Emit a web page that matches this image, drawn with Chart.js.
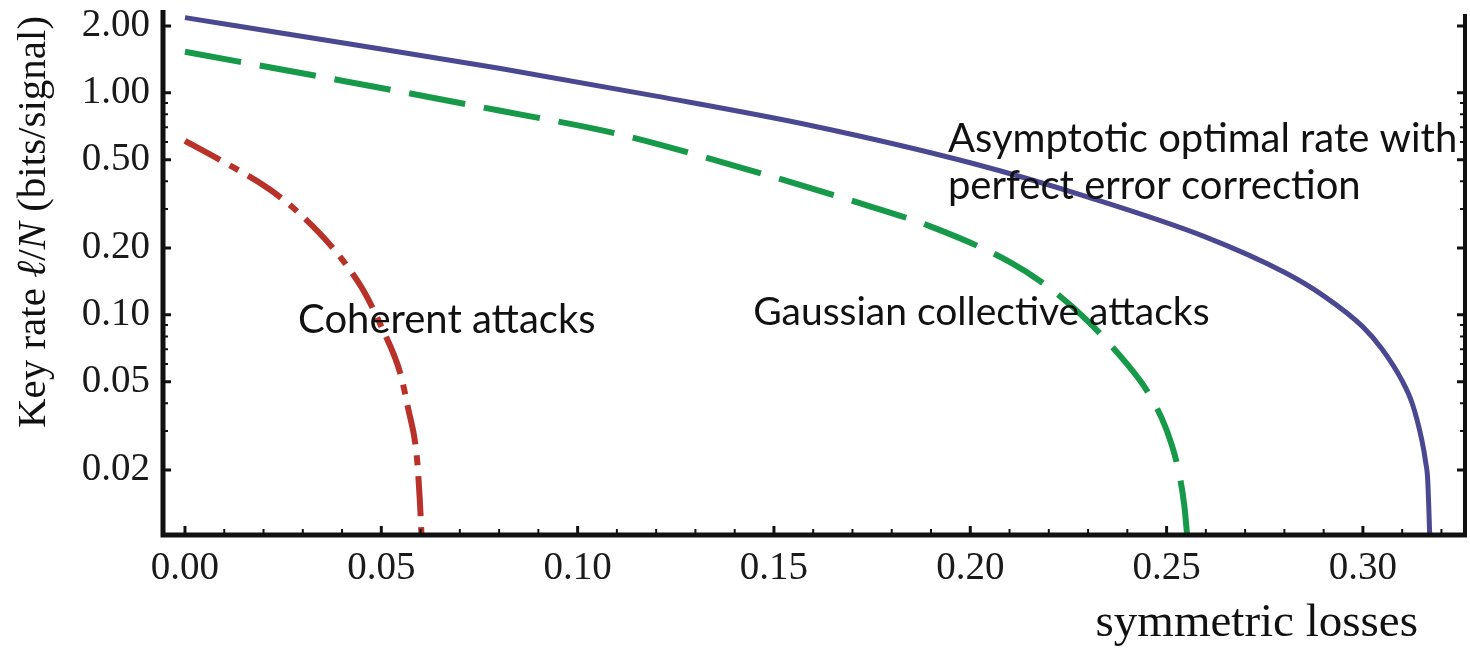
<!DOCTYPE html>
<html>
<head>
<meta charset="utf-8">
<script src="https://cdn.jsdelivr.net/npm/chart.js@4.4.1/dist/chart.umd.min.js"></script>
<style>
  body { margin: 0; background: #fff; }
  #wrap { width: 1470px; height: 649px; }
</style>
</head>
<body>
<div id="wrap"><canvas id="grafico" width="1470" height="649"></canvas></div>
<script>
// ----------------------------------------------------
//  DADOS
// ----------------------------------------------------
const lossOptimal = [0, 0.04, 0.08, 0.12, 0.16, 0.20, 0.23, 0.26, 0.28, 0.29, 0.30, 0.305, 0.31, 0.3125, 0.315, 0.316, 0.3165, 0.3172];
const rateOptimal = [2.18, 1.68, 1.29, 0.966, 0.709, 0.484, 0.339, 0.224, 0.1555, 0.1218, 0.0883, 0.0696, 0.0504, 0.0402, 0.0273, 0.0216, 0.0181, 0.008];

const lossGaussian = [0, 0.04, 0.08, 0.11, 0.14, 0.17, 0.19, 0.21, 0.22, 0.23, 0.24, 0.245, 0.25, 0.253, 0.2545, 0.2555];
const rateGaussian = [1.53, 1.134, 0.832, 0.654, 0.469, 0.326, 0.2496, 0.1733, 0.133, 0.0935, 0.0598, 0.0455, 0.0303, 0.020, 0.0139, 0.009];

const lossCoherent = [0, 0.0089, 0.0217, 0.0301, 0.0387, 0.0453, 0.0504, 0.0548, 0.0568, 0.0590, 0.0598, 0.0605];
const rateCoherent = [0.608, 0.499, 0.366, 0.276, 0.190, 0.130, 0.0856, 0.0548, 0.0381, 0.0234, 0.0147, 0.008];

const xTicks = [0, 0.05, 0.10, 0.15, 0.20, 0.25, 0.30];
const xMinorTicks = [0.01, 0.02, 0.03, 0.04, 0.06, 0.07, 0.08, 0.09, 0.11, 0.12, 0.13, 0.14, 0.16, 0.17, 0.18, 0.19,
  0.21, 0.22, 0.23, 0.24, 0.26, 0.27, 0.28, 0.29, 0.31, 0.32];
const yTicks = [0.02, 0.05, 0.10, 0.20, 0.50, 1.00, 2.00];
const yMinorTicks = [0.03, 0.04, 0.06, 0.07, 0.08, 0.09, 0.3, 0.4, 0.6, 0.7, 0.8, 0.9];

const labelOptimal = ["Asymptotic optimal rate with", "perfect error correction"];
const labelGaussian = "Gaussian collective attacks";
const labelCoherent = "Coherent attacks";
const xTitle = "symmetric losses";

const pontos = (xs, ys) => xs.map((v, i) => ({ x: v, y: ys[i] }));

// ----------------------------------------------------
//  CORES / FONTES
// ----------------------------------------------------
const cores = {
  azul: "#4b4892",
  verde: "#17994a",
  vermelho: "#b8322a",
  eixo: "#111111",
};
const serif = "'Liberation Serif', 'Times New Roman', serif";
const sans = "Lato, 'Open Sans', sans-serif";

// ----------------------------------------------------
//  PLUGIN: moldura, ticks internos e textos
// ----------------------------------------------------
const decoracao = {
  id: "decoracao",
  afterDatasetsDraw(chart) {
    const { ctx, chartArea: a, scales } = chart;
    const sx = scales.x, sy = scales.y;
    ctx.save();
    ctx.strokeStyle = cores.eixo;
    ctx.lineCap = "butt";

    // moldura
    ctx.lineWidth = 5;
    ctx.beginPath();
    ctx.moveTo(a.left, a.top);
    ctx.lineTo(a.left, a.bottom + 2.5);
    ctx.moveTo(a.left - 2.5, a.bottom);
    ctx.lineTo(a.right + 2, a.bottom);
    ctx.stroke();
    ctx.lineWidth = 4;
    ctx.beginPath();
    ctx.moveTo(a.right, a.top + 4);
    ctx.lineTo(a.right, a.bottom);
    ctx.stroke();

    // ticks internos
    const tickX = (v, len, w) => {
      const px = sx.getPixelForValue(v);
      ctx.lineWidth = w;
      ctx.beginPath();
      ctx.moveTo(px, a.bottom);
      ctx.lineTo(px, a.bottom - len);
      ctx.stroke();
    };
    const tickY = (v, len, w) => {
      const py = sy.getPixelForValue(v);
      ctx.lineWidth = w;
      ctx.beginPath();
      ctx.moveTo(a.left, py);
      ctx.lineTo(a.left + len, py);
      ctx.moveTo(a.right, py);
      ctx.lineTo(a.right - len, py);
      ctx.stroke();
    };
    xTicks.forEach((v) => tickX(v, 9, 3));
    xMinorTicks.forEach((v) => tickX(v, 6, 2));
    yTicks.forEach((v) => tickY(v, 8, 3));
    yMinorTicks.forEach((v) => tickY(v, 5, 2));

    // rótulos das curvas
    ctx.fillStyle = "#111";
    ctx.textAlign = "left";
    ctx.textBaseline = "alphabetic";
    ctx.font = "40px " + sans;
    ctx.fillText(labelOptimal[0], sx.getPixelForValue(0.1943), sy.getPixelForValue(0.542));
    ctx.fillText(labelOptimal[1], sx.getPixelForValue(0.1943), sy.getPixelForValue(0.333));
    ctx.font = "39px " + sans;
    ctx.fillText(labelGaussian, sx.getPixelForValue(0.1447), sy.getPixelForValue(0.0902));
    ctx.font = "40px " + sans;
    ctx.fillText(labelCoherent, sx.getPixelForValue(0.0288), sy.getPixelForValue(0.0829));

    // título do eixo x (canto inferior direito)
    ctx.font = "47px " + serif;
    ctx.textAlign = "right";
    ctx.fillText(xTitle, 1418, 636);

    // título do eixo y (rotacionado, com ℓ e N em itálico)
    const partes = [
      ["Key rate ", "41px " + serif],
      ["\u2113", "italic 41px " + serif],
      ["/", "41px " + serif],
      ["N", "italic 41px " + serif],
      [" (bits/signal)", "41px " + serif],
    ];
    let total = 0;
    partes.forEach(([t, f]) => { ctx.font = f; total += ctx.measureText(t).width; });
    ctx.translate(45, 222);
    ctx.rotate(-Math.PI / 2);
    ctx.textAlign = "left";
    let u = -total / 2;
    partes.forEach(([t, f]) => {
      ctx.font = f;
      ctx.fillText(t, u, 0);
      u += ctx.measureText(t).width;
    });
    ctx.restore();
  },
};

// ----------------------------------------------------
//  GRÁFICO
// ----------------------------------------------------
function gerarGrafico() {
  const ctx = document.getElementById("grafico").getContext("2d");

  new Chart(ctx, {
    type: "line",
    data: {
      datasets: [
        {
          label: "Asymptotic optimal rate",
          data: pontos(lossOptimal, rateOptimal),
          borderColor: cores.azul,
          borderWidth: 5,
        },
        {
          label: "Gaussian collective attacks",
          data: pontos(lossGaussian, rateGaussian),
          borderColor: cores.verde,
          borderWidth: 6,
          borderDash: [57, 19],
        },
        {
          label: "Coherent attacks",
          data: pontos(lossCoherent, rateCoherent),
          borderColor: cores.vermelho,
          borderWidth: 6,
          borderDash: [40, 11, 10, 11],
        },
      ],
    },
    options: {
      responsive: false,
      animation: false,
      layout: { padding: { top: 10, right: 5, left: 0, bottom: 0 } },
      elements: {
        point: { radius: 0 },
        line: { cubicInterpolationMode: "monotone", borderCapStyle: "butt", fill: false },
      },
      plugins: {
        legend: { display: false },
        tooltip: { enabled: false },
      },
      scales: {
        x: {
          type: "linear",
          min: -0.0056,
          max: 0.326,
          afterBuildTicks: (s) => { s.ticks = xTicks.map((v) => ({ value: v })); },
          afterFit: (s) => { s.height = 114; s.paddingLeft = 0; s.paddingRight = 0; },
          grid: { display: false, drawTicks: false },
          border: { display: false },
          ticks: {
            autoSkip: false,
            maxRotation: 0,
            padding: 10,
            color: "#1a1a1a",
            font: { family: serif, size: 39 },
            callback: (v) => Number(v).toFixed(2),
          },
        },
        y: {
          type: "logarithmic",
          min: 0.0102,
          max: 2.36,
          afterBuildTicks: (s) => { s.ticks = yTicks.map((v) => ({ value: v })); },
          afterFit: (s) => { s.width = 163; s.paddingTop = 0; s.paddingBottom = 0; },
          grid: { display: false, drawTicks: false },
          border: { display: false },
          ticks: {
            autoSkip: false,
            padding: 13,
            color: "#1a1a1a",
            font: { family: serif, size: 39 },
            callback: (v) => Number(v).toFixed(2),
          },
        },
      },
    },
    plugins: [decoracao],
  });
}

gerarGrafico();
</script>
</body>
</html>
